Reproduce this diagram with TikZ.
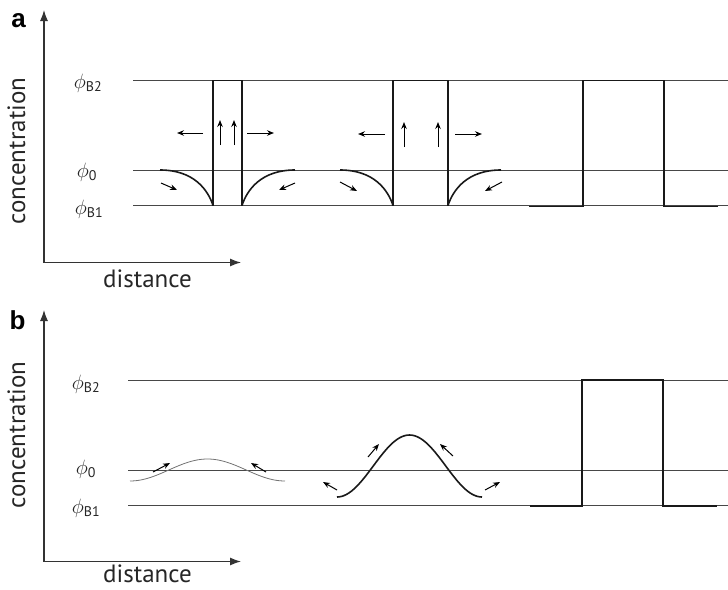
\documentclass[tikz,border=0pt]{standalone}
\usepackage{fontspec}
\setmainfont{PT Sans}
\newfontfamily\panelfont{Liberation Sans}
\usetikzlibrary{arrows.meta}

\begin{document}
\begin{tikzpicture}[
			x=1pt, y=-1pt,
			axis/.style = {{Latex[length=11pt,width=8pt]}-{Latex[length=11pt,width=8pt]}, line width=1.2pt, black!80},
			philine/.style = {line width=1pt, black!72},
			wall/.style = {line width=1.6pt, black!90, line join=miter},
			arr/.style = {-{Stealth[length=7pt,width=5.5pt]}, line width=1pt},
			thinwave/.style = {line width=0.8pt, black!55},
			axlabel/.style = {font=\fontsize{25}{30}\selectfont, text=black!85, inner sep=0pt},
			philabel/.style = {font=\fontsize{20}{24}\selectfont, text=black!85},
			panel/.style = {font=\panelfont\bfseries\fontsize{26}{30}\selectfont},
		]
			\useasboundingbox (0,0) rectangle (728,589);

			% 面板 a：坐标轴
			\node[panel] (a-lbl) at (18.5,21) {a};
			\coordinate (a-o) at (44,262.5);
			\coordinate (a-ytip) at (44,10);
			\coordinate (a-xtip) at (241,262.5);
			\draw[axis] (a-ytip) -- (a-o) -- (a-xtip);
			\node[axlabel, rotate=90, anchor=base] (a-conc) at (25,151) {concentration};
			\node[axlabel, anchor=base] (a-dist) at (147.5,287) {distance};
			% 浓度水平
			\node[philabel] (a-B2) at (88,83) {$\phi$\textsubscript{B2}};
			\node[philabel] (a-0) at (87,172) {$\phi$\textsubscript{0}};
			\node[philabel] (a-B1) at (89,209) {$\phi$\textsubscript{B1}};
			\draw[philine] (133,80.5) -- (728,80.5);
			\draw[philine] (133,170) -- (728,170);
			\draw[philine] (133,205.5) -- (728,205.5);
			% 第一个畴
			\draw[wall] (213,205.5) -- (213,80.5) -- (242,80.5) -- (242,205.5);
			\draw[wall] (160,170) .. controls (194,170) and (208,190) .. (213,205.5);
			\draw[wall] (242,205.5) .. controls (247,190) and (261,170) .. (295,170);
			\draw[arr] (220,145) -- (220,120);
			\draw[arr] (234,145) -- (234,120);
			\draw[arr] (203,133) -- (177,133);
			\draw[arr] (247,133) -- (274,133);
			\draw[arr] (161,183) -- (177,190);
			\draw[arr] (295,183) -- (279,190);
			% 第二个畴
			\draw[wall] (393,205.5) -- (393,80.5) -- (448,80.5) -- (448,205.5);
			\draw[wall] (340,170) .. controls (374,170) and (388,190) .. (393,205.5);
			\draw[wall] (448,205.5) .. controls (453,190) and (467,170) .. (501,170);
			\draw[arr] (404,147) -- (404,122);
			\draw[arr] (438,147) -- (438,122);
			\draw[arr] (385,134) -- (358,134);
			\draw[arr] (455,134) -- (482,134);
			\draw[arr] (340,182) -- (357,191);
			\draw[arr] (502,182) -- (485,191);
			% 第三个畴
			\draw[wall] (529,206.5) -- (583,206.5) -- (583,80.5) -- (664,80.5) -- (664,206.5) -- (718,206.5);

			% 面板 b
			\begin{scope}[shift={(0,299)}]
				\node[panel] (b-lbl) at (17.5,21) {b};
				\coordinate (b-o) at (44,262.5);
				\coordinate (b-ytip) at (44,11);
				\coordinate (b-xtip) at (241,262.5);
				\draw[axis] (b-ytip) -- (b-o) -- (b-xtip);
				\node[axlabel, rotate=90, anchor=base] (b-conc) at (25,136) {concentration};
				\node[axlabel, anchor=base] (b-dist) at (147.5,283) {distance};
				% 浓度水平
				\node[philabel] (b-B2) at (86,85) {$\phi$\textsubscript{B2}};
				\node[philabel] (b-0) at (86,170) {$\phi$\textsubscript{0}};
				\node[philabel] (b-B1) at (86,209) {$\phi$\textsubscript{B1}};
				\draw[philine] (128,81) -- (728,81);
				\draw[philine] (128,171) -- (728,171);
				\draw[philine] (128,206) -- (728,206);
				% 小扰动
				\draw[thinwave] plot[domain=-180:180, samples=61, smooth] ({207.5+\x/360*155},{171-11*cos(\x)});
				\draw[arr] (153,173) -- (170,164);
				\draw[arr] (266,173) -- (251,164);
				% 大扰动
				\draw[wall] plot[domain=-180:180, samples=61, smooth] ({409.5+\x/360*145},{167-31*cos(\x)});
				\draw[arr] (337,191) -- (323,183);
				\draw[arr] (368,158) -- (379,145);
				\draw[arr] (453,157) -- (440,145);
				\draw[arr] (485,191) -- (500,183);
				% 畴
				\draw[wall] (530,207) -- (582,207) -- (582,81) -- (663,81) -- (663,207) -- (717,207);
			\end{scope}
		\end{tikzpicture}
\end{document}
